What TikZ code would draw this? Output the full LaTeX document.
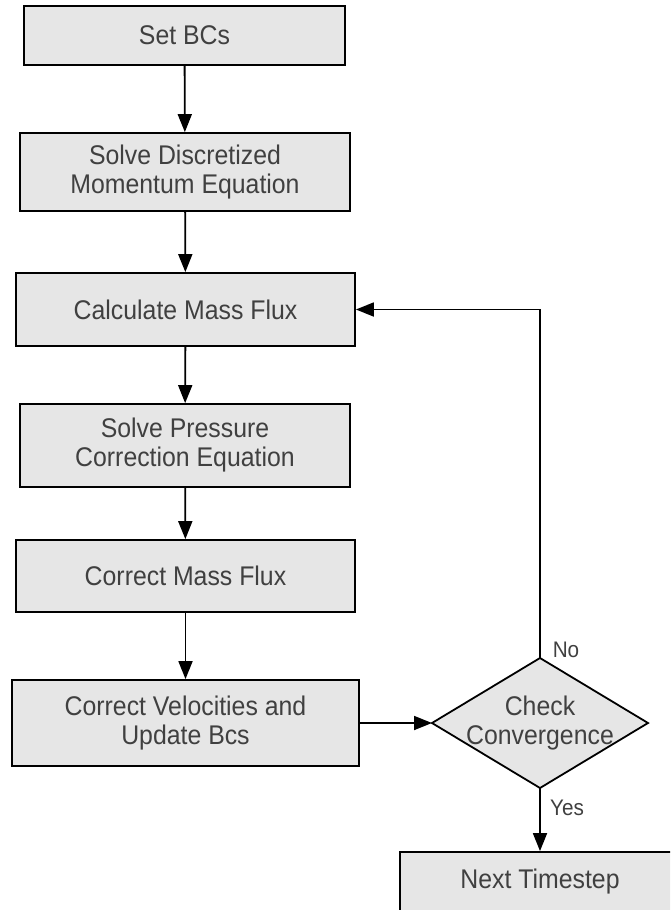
\documentclass[tikz,border=0pt]{standalone}
\usepackage{fontspec}
\setmainfont{Liberation Sans}[FakeStretch=0.92]
\usetikzlibrary{arrows.meta,shapes.geometric}
\definecolor{boxfill}{HTML}{E6E6E6}
\definecolor{txt}{HTML}{404040}
\begin{document}
\begin{tikzpicture}[x=1pt,y=-1pt,
  stepbox/.style={draw=black,line width=1.8pt,fill=boxfill,text=txt,align=center,
    inner sep=0pt,font=\fontsize{27}{29}\selectfont},
  flow/.style={draw=black,line width=1.8pt,-{Triangle[length=18pt,width=14pt]}},
  lbl/.style={text=txt,font=\fontsize{22.5}{25}\selectfont,inner sep=0pt}]
\useasboundingbox (0,0) rectangle (670,910);
\fill[white] (0,0) rectangle (670,910);
\clip (0,0) rectangle (670,910);
\node[stepbox,minimum width=321pt,minimum height=59pt] (b1) at (184.5,35.5) {Set BCs};
\node[stepbox,minimum width=330pt,minimum height=78pt] (b2) at (185,172) {Solve Discretized\\Momentum Equation};
\node[stepbox,minimum width=339pt,minimum height=73pt] (b3) at (185.5,309.5) {Calculate Mass Flux};
\node[stepbox,minimum width=330pt,minimum height=83pt] (b4) at (185,445.5) {Solve Pressure\\Correction Equation};
\node[stepbox,minimum width=339pt,minimum height=72pt] (b5) at (185.5,576) {Correct Mass Flux};
\node[stepbox,minimum width=347pt,minimum height=86pt] (b6) at (185.5,723) {Correct Velocities and\\Update Bcs};
\draw[line width=1.8pt,fill=boxfill] (432,723) -- (540,658) -- (648,723) -- (540,788) -- cycle;
\node[text=txt,align=center,inner sep=0pt,font=\fontsize{27}{29}\selectfont] (d) at (540,723) {Check\\Convergence};
\node[stepbox,minimum width=280pt,minimum height=60pt] (b7) at (540,882) {Next Timestep};
\coordinate (dtop) at (540,658);
\coordinate (dbot) at (540,788);
\coordinate (dleft) at (432,723);
\coordinate (turn) at (540,309.5);
\draw[flow] (b1) -- (b2);
\draw[flow] (b2) -- (b3);
\draw[flow] (b3) -- (b4);
\draw[flow] (b4) -- (b5);
\draw[flow] (b5) -- (b6);
\draw[flow] (b6.east) -- (dleft);
\draw[flow] (dbot) -- (b7.north);
\draw[flow] (dtop) -- (turn) -- (b3.east);
\node[lbl] (no) at (566,650) {No};
\node[lbl] (yes) at (567,808) {Yes};
\end{tikzpicture}
\end{document}
